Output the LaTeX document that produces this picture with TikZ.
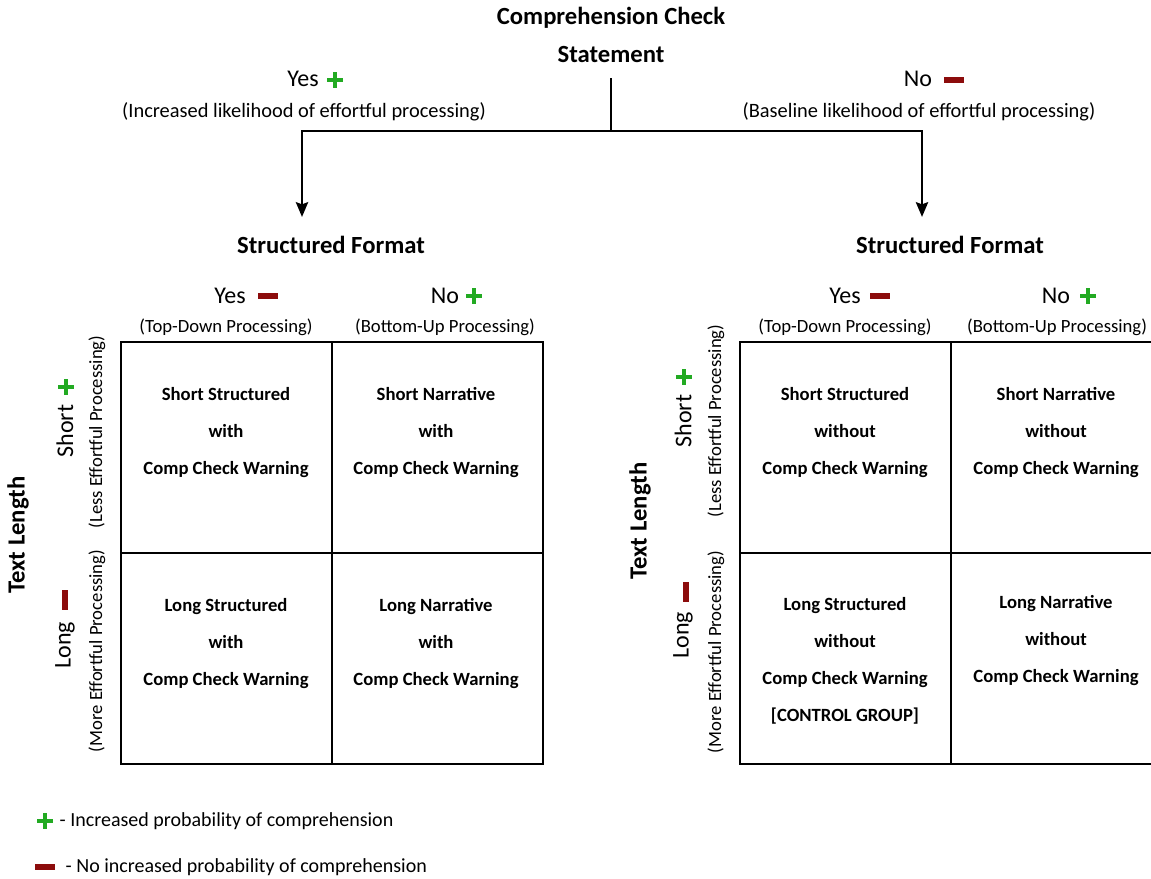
\documentclass[tikz,border=0pt]{standalone}
\usepackage{fontspec}
\setmainfont{Carlito}
\usetikzlibrary{arrows.meta}
\definecolor{plusgreen}{RGB}{34,170,34}
\definecolor{minusred}{RGB}{140,12,12}
\tikzset{
	cell/.style={draw,line width=1.5pt,minimum width=158.25pt,minimum height=158.25pt,inner sep=0pt},
	celltext/.style={align=center,font=\fontsize{14}{27.75}\selectfont\bfseries},
	head/.style={font=\fontsize{18.5}{22}\selectfont\bfseries},
	answer/.style={font=\fontsize{18}{21}\selectfont},
	note/.style={font=\fontsize{14}{17}\selectfont},
	topnote/.style={font=\fontsize{15.3}{18}\selectfont},
	legend/.style={anchor=west,font=\fontsize{15}{18}\selectfont},
	flow/.style={line width=2.2pt},
	plusmark/.pic={\fill[plusgreen] (-8,-2.3) rectangle (8,2.3); \fill[plusgreen] (-2.3,-8) rectangle (2.3,8);},
	minusmark/.pic={\fill[minusred] (-10,-2.6) rectangle (10,2.6);}
}
\begin{document}
\begin{tikzpicture}[x=0.75pt,y=-0.75pt]
	\useasboundingbox (0,0) rectangle (1151,878);
	\node[head] (title) at (611,18) {Comprehension Check};
	\node[head] (stmt) at (611,55) {Statement};
	\node[answer] (yesT) at (303,79) {Yes};
	\pic at (335,80) {plusmark};
	\node[topnote] (incT) at (304,112) {(Increased likelihood of effortful processing)};
	\node[answer] (noT) at (918,79) {No};
	\pic at (954,80) {minusmark};
	\node[topnote] (baseT) at (919,112) {(Baseline likelihood of effortful processing)};
	\coordinate (stem) at (611,78);
	\coordinate (fork) at (611,131);
	\coordinate (endL) at (302,217);
	\coordinate (endR) at (922,217);
	\draw[flow] (stem) -- (fork);
	\draw[flow,-{Stealth[length=11pt,width=9pt,inset=1.5pt]}] (fork) -| (endL);
	\draw[flow,-{Stealth[length=11pt,width=9pt,inset=1.5pt]}] (fork) -| (endR);
	\node[head] (fmtL) at (331,245) {Structured Format};
	\node[head] (fmtR) at (950,245) {Structured Format};
	\node[answer] (yesL) at (230,296) {Yes};
	\pic at (268,296) {minusmark};
	\node[note] (tdL) at (226,327) {(Top-Down Processing)};
	\node[answer] (noL) at (445,296) {No};
	\pic at (474,296) {plusmark};
	\node[note] (buL) at (445,327) {(Bottom-Up Processing)};
	\node[answer] (yesR) at (845,296) {Yes};
	\pic at (880,296) {minusmark};
	\node[note] (tdR) at (845,327) {(Top-Down Processing)};
	\node[answer] (noR) at (1056,296) {No};
	\pic at (1088,296) {plusmark};
	\node[note] (buR) at (1057,327) {(Bottom-Up Processing)};
	\node[cell] (l11) at (226,447.5) {};
	\node[cell] (l12) at (437,447.5) {};
	\node[cell] (l21) at (226,658.5) {};
	\node[cell] (l22) at (437,658.5) {};
	\node[cell] (r11) at (845.5,447.5) {};
	\node[cell] (r12) at (1056.5,447.5) {};
	\node[cell] (r21) at (845.5,658.5) {};
	\node[cell] (r22) at (1056.5,658.5) {};
	\node[celltext] (tl11) at (226,432.5) {Short Structured\\with\\Comp Check Warning};
	\node[celltext] (tl12) at (436,432.5) {Short Narrative\\with\\Comp Check Warning};
	\node[celltext] (tl21) at (226,644) {Long Structured\\with\\Comp Check Warning};
	\node[celltext] (tl22) at (436,644) {Long Narrative\\with\\Comp Check Warning};
	\node[celltext] (tr11) at (845,432.5) {Short Structured\\without\\Comp Check Warning};
	\node[celltext] (tr12) at (1056,432.5) {Short Narrative\\without\\Comp Check Warning};
	\node[celltext] (tr21) at (845,661) {Long Structured\\without\\Comp Check Warning\\{[CONTROL GROUP]}};
	\node[celltext] (tr22) at (1056,641) {Long Narrative\\without\\Comp Check Warning};
	\node[head,rotate=90] (lenL) at (18,535) {Text Length};
	\node[answer,rotate=90] (shortL) at (65,431) {Short};
	\pic[rotate=90] at (66,387) {plusmark};
	\node[note,rotate=90] (lessL) at (97,432) {(Less Effortful Processing)};
	\node[answer,rotate=90] (longL) at (65,645) {Long};
	\pic[rotate=90] at (65,600) {minusmark};
	\node[note,rotate=90] (moreL) at (97,651) {(More Effortful Processing)};
	\node[head,rotate=90] (lenR) at (640,521) {Text Length};
	\node[answer,rotate=90] (shortR) at (683,421) {Short};
	\pic[rotate=90] at (684,377) {plusmark};
	\node[note,rotate=90] (lessR) at (716,421) {(Less Effortful Processing)};
	\node[answer,rotate=90] (longR) at (683,635) {Long};
	\pic[rotate=90] at (686,592) {minusmark};
	\node[note,rotate=90] (moreR) at (716,652) {(More Effortful Processing)};
	\pic at (45,821) {plusmark};
	\node[legend] (legPlus) at (55,821) {- Increased probability of comprehension};
	\pic at (45,867) {minusmark};
	\node[legend] (legMinus) at (61,867) {- No increased probability of comprehension};
\end{tikzpicture}
\end{document}
